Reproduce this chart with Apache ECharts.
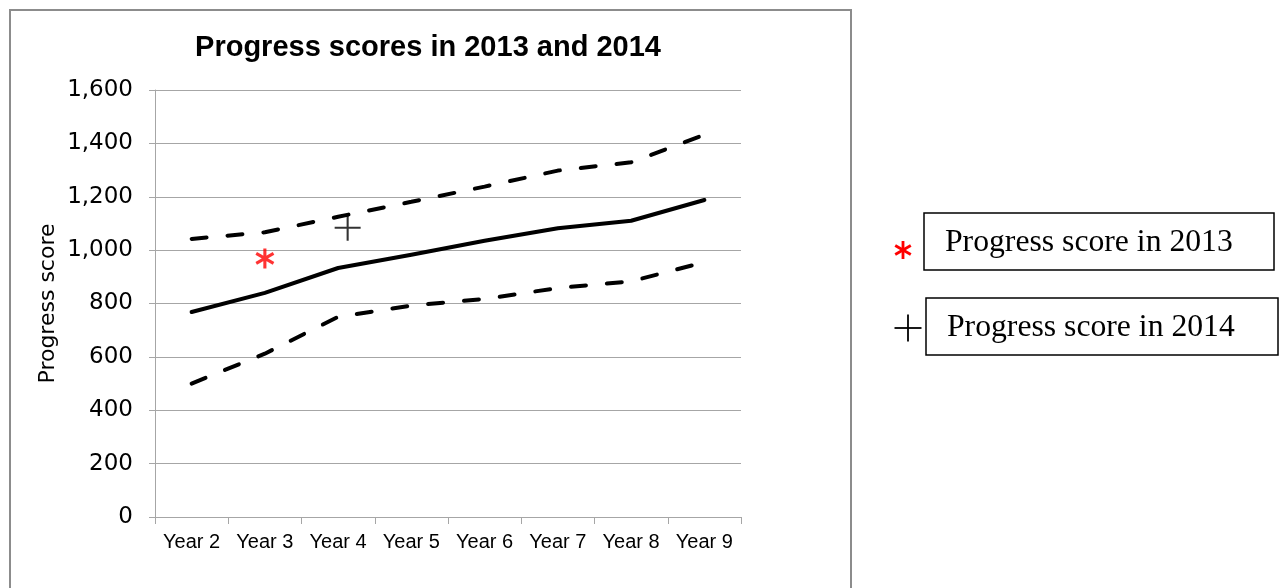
<!DOCTYPE html>
<html><head><meta charset="utf-8">
<script src="https://cdn.jsdelivr.net/npm/echarts@6/dist/echarts.min.js"></script>
<style>html,body{margin:0;padding:0;background:#fff}#c{width:1279px;height:588px}</style>
</head><body><div id="c"></div>
<script>
var categories = ['Year 2','Year 3','Year 4','Year 5','Year 6','Year 7','Year 8','Year 9'];
var middleLine = [768, 840, 933, 983, 1035, 1082, 1110, 1188];
var upperLine = [1042, 1067, 1125, 1181, 1238, 1298, 1329, 1432];
var lowerLine = [500, 612, 750, 792, 817, 858, 883, 955];
var score2013 = [[1.0, 969]];
var score2014 = [[2.13, 1084]];
var yTicks = {min: 0, max: 1600, interval: 200};

var asteriskPolys = [
  [[8.6,1],[11.4,1],[11.4,19],[8.6,19]],
  [[2.91,15.71],[1.51,13.29],[17.09,4.29],[18.49,6.71]],
  [[1.51,6.71],[2.91,4.29],[18.49,13.29],[17.09,15.71]]
];
var asteriskPath = 'path://' + asteriskPolys.map(function (p) {
  return p.map(function (q, i) { return (i ? 'L' : 'M') + q[0] + ',' + q[1]; }).join('') + 'Z';
}).join(' ');
var plusPath = 'path://M9.2,0L10.8,0L10.8,9.2L20,9.2L20,10.8L10.8,10.8L10.8,20L9.2,20L9.2,10.8L0,10.8L0,9.2L9.2,9.2Z';

function asteriskGraphic(cx, cy, size, color) {
  var s = size / 20, ox = cx - 10 * s, oy = cy - 10 * s;
  return asteriskPolys.map(function (p) {
    return {type: 'polygon', shape: {points: p.map(function (q) { return [ox + q[0] * s, oy + q[1] * s]; })}, style: {fill: color}};
  });
}
function plusGraphic(cx, cy, size, thick, color) {
  return [
    {type: 'rect', shape: {x: cx - size / 2, y: cy - thick / 2, width: size, height: thick}, style: {fill: color}},
    {type: 'rect', shape: {x: cx - thick / 2, y: cy - size / 2, width: thick, height: size}, style: {fill: color}}
  ];
}

var chart = echarts.init(document.getElementById('c'));
var gridColor = '#a6a6a6';
var graphics = [
  {type: 'rect', shape: {x: 10, y: 10, width: 841, height: 600}, style: {fill: 'none', stroke: '#8c8c8c', lineWidth: 2}, z: -1},
  {type: 'text', x: 428, y: 48, style: {text: 'Progress scores in 2013 and 2014', fontFamily: 'Liberation Sans, Arial, sans-serif', fontWeight: 'bold', fontSize: 29, fill: '#000', textAlign: 'center', textVerticalAlign: 'middle'}},
  {type: 'rect', shape: {x: 924, y: 213, width: 350, height: 57}, style: {fill: 'none', stroke: '#000', lineWidth: 1.5}},
  {type: 'rect', shape: {x: 926, y: 298, width: 352, height: 57}, style: {fill: 'none', stroke: '#000', lineWidth: 1.5}},
  {type: 'text', x: 945, y: 243, style: {text: 'Progress score in 2013', fontFamily: 'Liberation Serif, Times New Roman, serif', fontSize: 31.7, fill: '#000', textAlign: 'left', textVerticalAlign: 'middle'}},
  {type: 'text', x: 947, y: 328, style: {text: 'Progress score in 2014', fontFamily: 'Liberation Serif, Times New Roman, serif', fontSize: 31.7, fill: '#000', textAlign: 'left', textVerticalAlign: 'middle'}}
].concat(asteriskGraphic(903, 250, 20, '#ff0000')).concat(plusGraphic(908, 328, 27, 1.8, '#000'));

chart.setOption({
  animation: false,
  grid: {left: 155, right: 538, top: 90, bottom: 71, containLabel: false},
  xAxis: [{
    type: 'category', data: categories, boundaryGap: true,
    axisLine: {lineStyle: {color: gridColor, width: 1}},
    axisTick: {show: true, interval: 0, alignWithLabel: false, length: 7, lineStyle: {color: gridColor}},
    axisLabel: {interval: 0, color: '#000', fontFamily: 'Liberation Sans, Arial, sans-serif', fontSize: 20, margin: 15}
  }, {
    type: 'value', min: -0.5, max: 7.5, show: false
  }],
  yAxis: {
    type: 'value', min: yTicks.min, max: yTicks.max, interval: yTicks.interval,
    name: 'Progress score', nameLocation: 'middle', nameGap: 96,
    nameTextStyle: {color: '#000', fontFamily: 'DejaVu Sans, sans-serif', fontSize: 22},
    axisLine: {show: true, onZero: false, lineStyle: {color: gridColor, width: 1}},
    axisTick: {show: true, length: 6, lineStyle: {color: gridColor}},
    axisLabel: {color: '#000', fontFamily: 'DejaVu Sans, sans-serif', fontSize: 23, margin: 22,
      formatter: function (v) { return v.toLocaleString('en-US'); }},
    splitLine: {lineStyle: {color: gridColor, width: 1}}
  },
  series: [{
    type: 'line', data: upperLine, symbol: 'none', xAxisIndex: 0,
    lineStyle: {color: '#000', width: 4, type: [15, 21], cap: 'round'}
  }, {
    type: 'line', data: middleLine, symbol: 'none', xAxisIndex: 0,
    lineStyle: {color: '#000', width: 4, cap: 'round', join: 'round'}
  }, {
    type: 'line', data: lowerLine, symbol: 'none', xAxisIndex: 0,
    lineStyle: {color: '#000', width: 4, type: [15, 21], cap: 'round'}
  }, {
    type: 'scatter', xAxisIndex: 1, data: score2013, symbol: asteriskPath, symbolSize: 20,
    symbolKeepAspect: true, itemStyle: {color: '#ff0000'}
  }, {
    type: 'scatter', xAxisIndex: 1, data: score2014, symbol: plusPath, symbolSize: 26,
    symbolKeepAspect: true, itemStyle: {color: '#000'}
  }],
  graphic: graphics
});
</script></body></html>
